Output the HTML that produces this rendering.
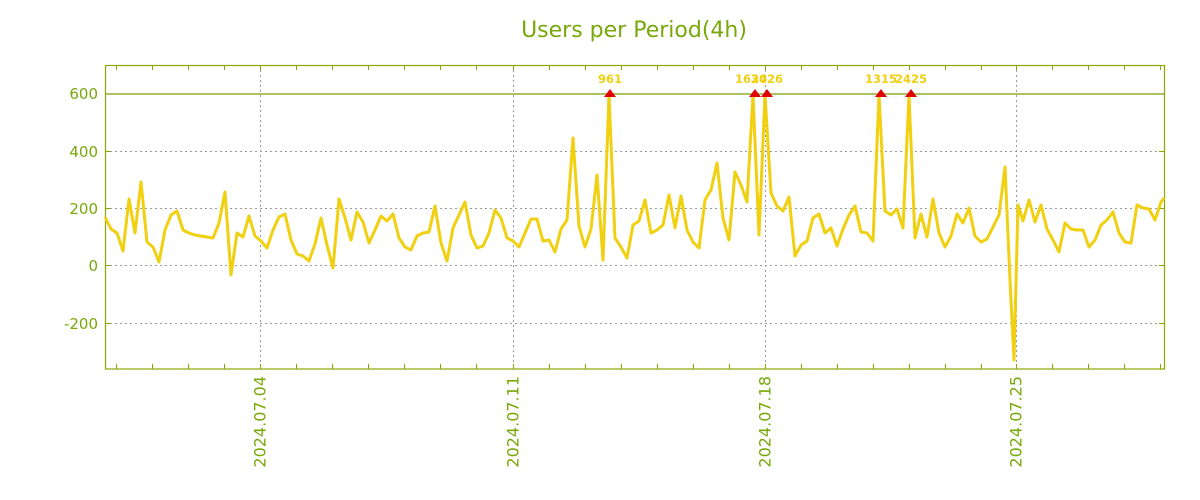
<!DOCTYPE html>
<html><head><meta charset="utf-8"><style>body{margin:0;background:#fff}svg{display:block}</style></head><body>
<svg width="1200" height="500" xmlns="http://www.w3.org/2000/svg" font-family="'DejaVu Sans','Liberation Sans',sans-serif">
<text x="634" y="37" font-size="22" fill="#78a80a" text-anchor="middle">Users per Period(4h)</text>
<g stroke="#999" stroke-width="1" stroke-dasharray="2,3">
<line x1="105" y1="151.5" x2="1164" y2="151.5"/><line x1="105" y1="208.5" x2="1164" y2="208.5"/><line x1="105" y1="265.5" x2="1164" y2="265.5"/><line x1="105" y1="323.5" x2="1164" y2="323.5"/>
<line x1="260.5" y1="65" x2="260.5" y2="369"/><line x1="513.5" y1="65" x2="513.5" y2="369"/><line x1="765.5" y1="65" x2="765.5" y2="369"/><line x1="1016.5" y1="65" x2="1016.5" y2="369"/>
</g>
<line x1="105" y1="94" x2="1164" y2="94" stroke="#7aa000" stroke-width="1.2"/>
<rect x="105.5" y="65.5" width="1059" height="303.5" fill="none" stroke="#88a800" stroke-width="1.2"/>
<g stroke="#88a800" stroke-width="1">
<path d="M116.5 65v5M152.5 65v5M188.5 65v5M224.5 65v5M260.5 65v5M296.5 65v5M332.5 65v5M368.5 65v5M404.5 65v5M440.5 65v5M476.5 65v5M513.5 65v5M549.5 65v5M585.5 65v5M621.5 65v5M657.5 65v5M693.5 65v5M729.5 65v5M765.5 65v5M801.5 65v5M837.5 65v5M873.5 65v5M909.5 65v5M945.5 65v5M981.5 65v5M1016.5 65v5M1052.5 65v5M1088.5 65v5M1124.5 65v5M1160.5 65v5"/>
<path d="M116.5 369v-5M152.5 369v-5M188.5 369v-5M224.5 369v-5M260.5 369v-5M296.5 369v-5M332.5 369v-5M368.5 369v-5M404.5 369v-5M440.5 369v-5M476.5 369v-5M513.5 369v-5M549.5 369v-5M585.5 369v-5M621.5 369v-5M657.5 369v-5M693.5 369v-5M729.5 369v-5M765.5 369v-5M801.5 369v-5M837.5 369v-5M873.5 369v-5M909.5 369v-5M945.5 369v-5M981.5 369v-5M1016.5 369v-5M1052.5 369v-5M1088.5 369v-5M1124.5 369v-5M1160.5 369v-5"/>
<path d="M105 151.5h5M105 208.5h5M105 265.5h5M105 323.5h5M1164 151.5h-5M1164 208.5h-5M1164 265.5h-5M1164 323.5h-5"/>
</g>
<g font-size="15" fill="#78a80a" text-anchor="end">
<text x="98" y="99">600</text><text x="98" y="157">400</text><text x="98" y="214">200</text><text x="98" y="271">0</text><text x="98" y="329">-200</text>
</g>
<g font-size="16" fill="#78a80a" text-anchor="end">
<text transform="translate(265.5,376) rotate(-90)">2024.07.04</text>
<text transform="translate(518.5,376) rotate(-90)">2024.07.11</text>
<text transform="translate(770.5,376) rotate(-90)">2024.07.18</text>
<text transform="translate(1021.5,376) rotate(-90)">2024.07.25</text>
</g>
<polyline fill="none" stroke="#f0d010" stroke-width="3" stroke-linejoin="round" points="105,217 111,229 117,233 123,251 129,199 135,233 141,182 147,242 153,247 159,262 165,230 171,215 177,211 183,230 189,233 195,235 201,236 207,237 213,238 219,223 225,192 231,275 237,233 243,237 249,216 255,236 261,241 267,248 273,230 279,217 285,214 291,240 297,254 303,256 309,261 315,244 321,218 327,245 333,268 339,199 345,218 351,240 357,212 363,222 369,243 375,230 381,216 387,221 393,214 399,238 405,247 411,250 417,236 423,233 429,232 435,206 441,243 447,261 453,228 459,215 465,202 471,235 477,248 483,246 489,233 495,210 501,218 507,238 513,241 519,247 525,233 531,219 537,219 543,241 549,240 555,252 561,229 567,220 573,138 579,226 585,247 591,229 597,175 603,260 609,95 615,238 621,247 627,258 633,225 639,221 645,200 651,233 657,230 663,225 669,195 675,228 681,196 687,230 693,242 699,248 705,200 711,190 717,163 723,218 729,240 735,172 741,185 747,202 753,95 759,235 765,95 771,193 777,206 783,211 789,197 795,256 801,245 807,241 813,218 819,214 825,233 831,228 837,246 843,229 849,215 855,206 861,232 867,233 873,241 879,95 885,211 891,215 897,209 903,228 909,95 915,238 921,214 927,237 933,199 939,233 945,247 951,236 957,214 963,223 969,208 975,236 981,242 987,239 993,227 999,215 1005,167 1010,280 1014,360 1018,205 1023,221 1029,200 1035,222 1041,205 1047,229 1053,240 1059,252 1065,223 1071,229 1077,230 1083,230 1089,247 1095,240 1101,225 1107,220 1113,212 1119,233 1125,242 1131,243 1137,205 1143,208 1149,209 1155,220 1161,202 1164,198"/>
<g fill="#e00000">
<path d="M604 97l6-8 6 8z"/><path d="M749 97l6-8 6 8z"/><path d="M761 97l6-8 6 8z"/><path d="M875 97l6-8 6 8z"/><path d="M905 97l6-8 6 8z"/>
</g>
<g font-size="11.5" font-weight="bold" fill="#f0d010" text-anchor="middle">
<text x="610" y="83">961</text><text x="751" y="83">1630</text><text x="767" y="83">2426</text><text x="881" y="83">1315</text><text x="911" y="83">2425</text>
</g>
</svg>
</body></html>
